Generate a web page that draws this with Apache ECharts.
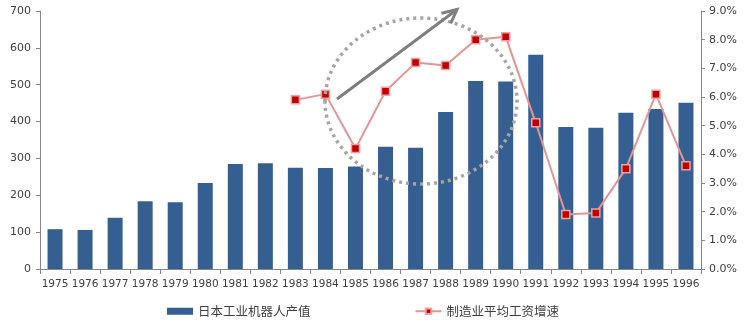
<!DOCTYPE html>
<html><head><meta charset="utf-8">
<script src="https://cdn.jsdelivr.net/npm/echarts@6/dist/echarts.min.js"></script>
<style>html,body{margin:0;padding:0;background:#fff}#c{width:746px;height:325px}</style>
</head><body><div id="c"></div>
<script>
const years = ['1975','1976','1977','1978','1979','1980','1981','1982','1983','1984','1985','1986','1987','1988','1989','1990','1991','1992','1993','1994','1995','1996'];
const robotOutput = [108,106,139,184,181,233,285,287,275,274,278,332,329,426,510,509,581,385,383,424,434,451];
const wageGrowth = [null,null,null,null,null,null,null,null,5.9,6.1,4.2,6.2,7.2,7.1,8.0,8.1,5.1,1.9,1.95,3.5,6.1,3.6];
const seriesNames = ['日本工业机器人产值','制造业平均工资增速'];

const chart = echarts.init(document.getElementById('c'));
const axisTxt = {color:'#404040', fontFamily:'DejaVu Sans', fontSize:11};
chart.setOption({
  animation:false,
  grid:{left:40, right:45, top:11, bottom:56, containLabel:false},
  legend:{
    left:162, top:300, itemGap:104, itemWidth:26, itemHeight:7,
    textStyle:{color:'#404040', fontSize:12.5, fontFamily:'Noto Sans CJK SC'},
    data:[{name:seriesNames[0], icon:'rect'}, {name:seriesNames[1]}]
  },
  xAxis:{
    type:'category', data:years,
    axisLine:{lineStyle:{color:'#868686'}},
    axisTick:{show:true, length:5, lineStyle:{color:'#868686'}},
    axisLabel:{margin:10, fontSize:10.5, interval:0, color:'#404040', fontFamily:'DejaVu Sans'}
  },
  yAxis:[
    {type:'value', min:0, max:700, interval:100,
     axisLine:{show:true, lineStyle:{color:'#868686'}},
     axisTick:{show:true, length:4, lineStyle:{color:'#868686'}},
     splitLine:{show:false},
     axisLabel:Object.assign({margin:9}, axisTxt)},
    {type:'value', min:0, max:9, interval:1,
     axisLine:{show:true, lineStyle:{color:'#868686'}},
     axisTick:{show:true, length:4, lineStyle:{color:'#868686'}},
     splitLine:{show:false},
     axisLabel:Object.assign({margin:8, formatter:v=>v.toFixed(1)+'%'}, axisTxt)}
  ],
  series:[
    {name:seriesNames[0], type:'bar', data:robotOutput, barWidth:15,
     itemStyle:{color:'#355f91'}},
    {name:seriesNames[1], type:'line', yAxisIndex:1, data:wageGrowth,
     symbol:'rect', symbolSize:8,
     lineStyle:{color:'#e39596', width:2},
     itemStyle:{color:'#c00000', borderColor:'#f0a0a0', borderWidth:1.5},
     z:3}
  ],
  graphic:[
    {type:'ellipse', shape:{cx:421, cy:101, rx:96, ry:83}, z:10,
     style:{fill:'none', stroke:'#a5a5a5', lineWidth:3.5, lineDash:[3,4]}},
    {type:'polyline', shape:{points:[[337,99],[457,9.5]]}, z:11,
     style:{stroke:'#7f7f7f', lineWidth:3, fill:'none'}},
    {type:'polyline', shape:{points:[[441.5,13.3],[457,9.5],[450.7,23.3]]}, z:11,
     style:{stroke:'#7f7f7f', lineWidth:3, fill:'none', lineJoin:'miter'}}
  ]
});
</script></body></html>
